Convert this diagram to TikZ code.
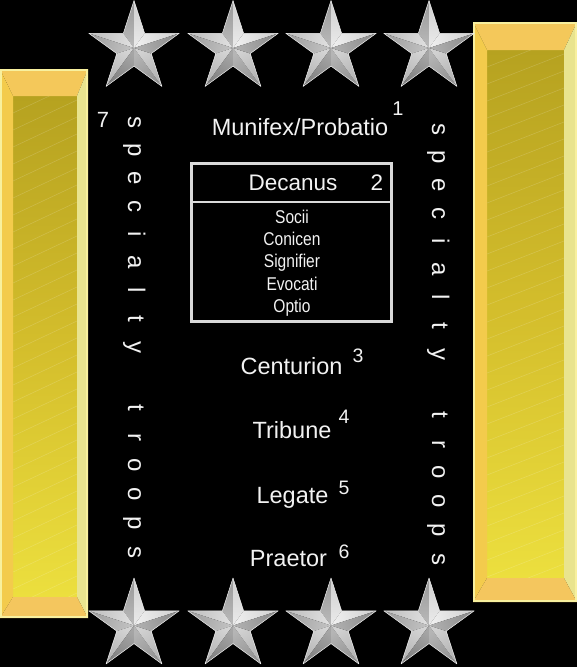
\documentclass[tikz,border=0pt]{standalone}
\usepackage{fontspec}
\setmainfont{Liberation Sans}
\definecolor{txt}{HTML}{F2F2F2}
\definecolor{boxc}{HTML}{DADADA}
\definecolor{bTop}{HTML}{F4C85A}
\definecolor{bLeft}{HTML}{F3CB4C}
\definecolor{bRight}{HTML}{E9E48E}
\definecolor{bBot}{HTML}{F4C65E}
\definecolor{bEdge}{HTML}{F8F09E}
\definecolor{gTop}{HTML}{B6A220}
\definecolor{gMid}{HTML}{D4BE2C}
\definecolor{gBot}{HTML}{ECDF3E}
\begin{document}
\begin{tikzpicture}[x=1pt,y=1pt,
  lbl/.style={text=txt, inner sep=0pt, anchor=base, font=\fontsize{23.5}{28}\selectfont},
  dec/.style={text=txt, inner sep=0pt, anchor=base, font=\fontsize{22.5}{27}\selectfont},
  num/.style={text=txt, inner sep=0pt, anchor=base, font=\fontsize{19.5}{22}\selectfont},
  sub/.style={text=txt, inner sep=0pt, anchor=base, xscale=0.84, font=\fontsize{18.5}{22}\selectfont},
  vlet/.style={text=txt, inner sep=0pt, anchor=base, rotate=-90, font=\fontsize{24}{28}\selectfont},
  facet/.style={draw=white!88!gray, line width=0.5pt, line join=round}]
\useasboundingbox (0,0) rectangle (577,-667);
\fill[black] (0,0) rectangle (577,-667);

% ---------- gold bars ----------
\newcommand\goldbar[8]{%
  \shade[top color=gTop, bottom color=gBot, middle color=gMid] (#5,-#6) rectangle (#7,-#8);
  \begin{scope}
    \clip (#5,-#6) rectangle (#7,-#8);
    \foreach \k in {0,...,34} {
      \draw[white, opacity=0.16, line width=0.6pt] (#5,-#6-\k*17) -- (#7,-#6-\k*17+30);
    }
  \end{scope}
  \fill[bTop] (#1,-#2) -- (#3,-#2) -- (#7,-#6) -- (#5,-#6) -- cycle;
  \fill[bLeft] (#1,-#2) -- (#5,-#6) -- (#5,-#8) -- (#1,-#4) -- cycle;
  \fill[bRight] (#3,-#2) -- (#3,-#4) -- (#7,-#8) -- (#7,-#6) -- cycle;
  \fill[bBot] (#1,-#4) -- (#3,-#4) -- (#7,-#8) -- (#5,-#8) -- cycle;
  \draw[bEdge, line width=1.6pt] (#1+0.8,-#2-0.8) rectangle (#3-0.8,-#4+0.8);
}
\goldbar{0}{69}{88}{618}{13}{96}{77}{597}
\goldbar{473}{22}{577}{602}{487}{50}{564}{578}

% ---------- silver stars ----------
\newcommand\silverstar[2]{%
  \begin{scope}[shift={(#1,-#2)}]
    \def\R{47.5}\def\r{18.1}
    \foreach \o/\i/\c in {90/126/A9A9A9, 90/54/E6E6E6,
                          162/126/D6D6D6, 162/198/B2B2B2,
                          234/198/C9C9C9, 234/270/8E8E8E,
                          306/270/A2A2A2, 306/342/C6C6C6,
                          18/54/EAEAEA, 18/342/9C9C9C} {
      \definecolor{fc}{HTML}{\c}
      \shade[left color=fc!80!white, right color=fc!90!black, shading angle=\o+90]
        (0,0) -- (\o:\R) -- (\i:\r) -- cycle;
    }
    \draw[facet] (90:\R) -- (126:\r) -- (162:\R) -- (198:\r) -- (234:\R) -- (270:\r)
       -- (306:\R) -- (342:\r) -- (18:\R) -- (54:\r) -- cycle;
  \end{scope}}
\foreach \x in {134,233,331,429} {
  \silverstar{\x}{48}
  \silverstar{\x}{625.5}
}

% ---------- ranks ----------
\node[lbl] (munifex) at (300,-135) {Munifex/Probatio};
\node[text=txt, inner sep=0pt, anchor=base, font=\fontsize{20}{24}\selectfont] (n1) at (398,-115) {1};

\node[draw=boxc, line width=3pt, minimum width=200pt, minimum height=158pt, inner sep=0pt] (box) at (291.5,-242.5) {};
\draw[boxc, line width=1.2pt] (box.west |- 0,-202) -- (box.east |- 0,-202);
\node[dec] (decanus) at (293,-190) {Decanus};
\node[dec] (n2) at (377,-190) {2};
\node[sub] (socii) at (292,-223.5) {Socii};
\node[sub] (conicen) at (292,-245.5) {Conicen};
\node[sub] (signifier) at (292,-267.5) {Signifier};
\node[sub] (evocati) at (292,-290) {Evocati};
\node[sub] (optio) at (292,-312) {Optio};

\node[lbl] (centurion) at (291.5,-374) {Centurion};
\node[num] (n3) at (358,-362) {3};
\node[lbl] (tribune) at (292,-438) {Tribune};
\node[num] (n4) at (344,-423) {4};
\node[lbl] (legate) at (292.5,-503) {Legate};
\node[num] (n5) at (344,-494) {5};
\node[lbl] (praetor) at (288.5,-566) {Praetor};
\node[num] (n6) at (344,-558) {6};
\node[text=txt, inner sep=0pt, anchor=base, font=\fontsize{22}{26}\selectfont] (n7) at (103,-127) {7};

% ---------- vertical "specialty troops" ----------
\foreach \l/\y [count=\n] in {s/122,p/150,e/178,c/206,i/234,a/262,l/290,t/319,y/347,
                               t/408,r/437,o/465,o/494,p/523,s/552} {
  \node[vlet] (left\n) at (128,-\y) {\l};
  \node[vlet] (right\n) at (432,-\y-7) {\l};
}
\end{tikzpicture}
\end{document}
